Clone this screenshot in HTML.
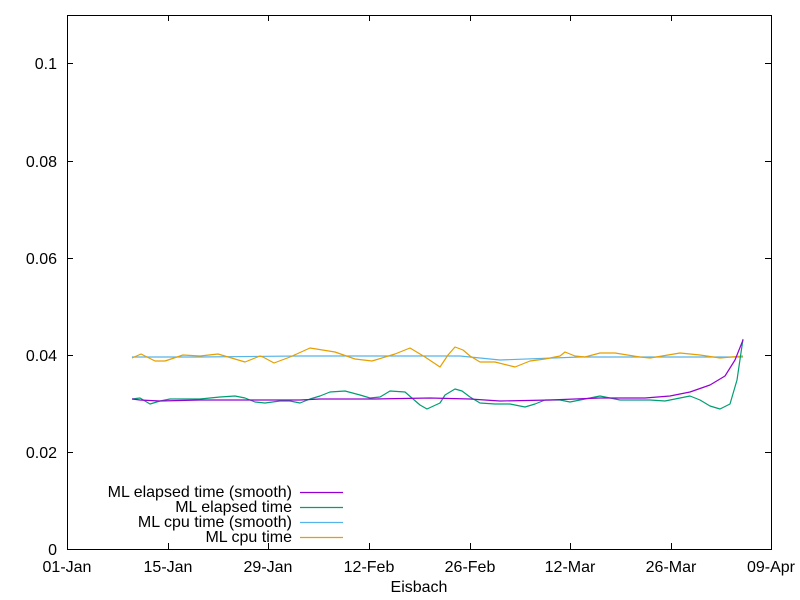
<!DOCTYPE html>
<html><head><meta charset="utf-8"><style>body{margin:0;background:#fff}svg{display:block}text{font-family:"Liberation Sans",sans-serif;font-size:16px;fill:#000}</style></head><body>
<svg width="800" height="600" viewBox="0 0 800 600">
<rect width="800" height="600" fill="#fff"/>
<g stroke="#000" fill="none" stroke-width="1">
<rect x="67.5" y="15.5" width="704" height="534"/>
<path d="M67 452.5h6M771 452.5h-6M67 355.5h6M771 355.5h-6M67 258.5h6M771 258.5h-6M67 161.5h6M771 161.5h-6M67 63.5h6M771 63.5h-6"/>
<path d="M168.5 549v-6M168.5 15v6M268.5 549v-6M268.5 15v6M369.5 549v-6M369.5 15v6M470.5 549v-6M470.5 15v6M570.5 549v-6M570.5 15v6M671.5 549v-6M671.5 15v6"/>
</g>
<g text-anchor="end"><text x="57" y="555">0</text><text x="57" y="458">0.02</text><text x="57" y="361">0.04</text><text x="57" y="264">0.06</text><text x="57" y="167">0.08</text><text x="57" y="69">0.1</text></g>
<g text-anchor="middle"><text x="67" y="572">01-Jan</text><text x="168" y="572">15-Jan</text><text x="268" y="572">29-Jan</text><text x="369" y="572">12-Feb</text><text x="470" y="572">26-Feb</text><text x="570" y="572">12-Mar</text><text x="671" y="572">26-Mar</text><text x="771" y="572">09-Apr</text><text x="419" y="592">Eisbach</text></g>
<g fill="none" stroke-width="1.2" stroke-linejoin="round">
<polyline stroke="#56b4e9" points="132,357 200,357 300,356 400,356 460,356 500,360 580,357 743,357"/>
<polyline stroke="#e69f00" points="132,358 141,354 155,361 165,361 183,355 200,356 218,354 245,362 260,356 263,357 274,363 290,357 310,348 335,352 355,359 372,361 395,354 410,348 425,357 440,367 448,355 455,347 463,350 470,356 480,362 495,362 515,367 530,361 545,359 560,356 565,352 575,356 585,357 600,353 615,353 640,357 650,358 680,353 700,355 720,358 743,356"/>
<polyline stroke="#009e73" points="132,399 140,398 150,404 160,401 170,399 200,399 220,397 235,396 245,398 255,402 265,403 280,401 290,401 300,403 310,399 320,396 330,392 345,391 360,395 370,398 380,397 390,391 405,392 420,405 427,409 440,403 445,395 455,389 462,391 470,397 480,403 495,404 510,404 515,405 525,407 535,404 545,400 560,400 570,402 585,399 600,396 610,398 620,400 650,400 665,401 680,398 690,396 700,400 710,406 720,409 730,404 737,380 743,339"/>
<polyline stroke="#9400d3" points="132,399 140,400 160,401 200,400 300,400 320,399 375,399 430,398 470,399 500,401 550,400 600,398 645,398 670,396 690,392 710,385 725,376 735,360 743,340"/>
</g>
<g text-anchor="end"><text x="292" y="497">ML elapsed time (smooth)</text><text x="292" y="512">ML elapsed time</text><text x="292" y="527">ML cpu time (smooth)</text><text x="292" y="542">ML cpu time</text></g>
<g stroke-width="1.2"><path d="M300 492.5h43" stroke="#9400d3"/><path d="M300 507.5h43" stroke="#009e73"/><path d="M300 522.5h43" stroke="#56b4e9"/><path d="M300 537.5h43" stroke="#e69f00"/></g>
</svg></body></html>
